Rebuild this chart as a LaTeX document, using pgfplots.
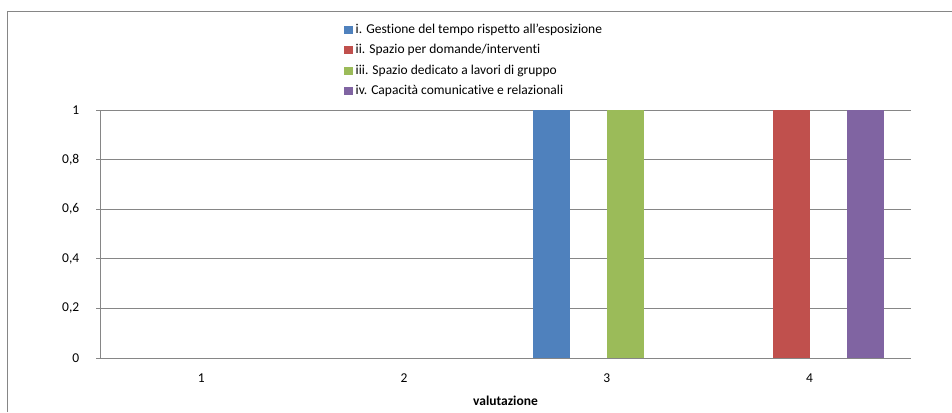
\documentclass[border=0pt]{standalone}
\usepackage{pgfplots}
\pgfplotsset{compat=1.18}
\usepackage{fontspec}
\setmainfont{Carlito}[Ligatures={NoCommon}]
\definecolor{sBlue}{HTML}{4F81BD}
\definecolor{sRed}{HTML}{C0504D}
\definecolor{sGreen}{HTML}{9BBB59}
\definecolor{sPurple}{HTML}{8064A2}
\definecolor{axgray}{HTML}{868686}
\begin{document}
\fontsize{13.5}{16}\selectfont
\begin{tikzpicture}[x=1pt,y=1pt]
\useasboundingbox (0,0) rectangle (952,412);
\draw[axgray, line width=1pt] (7,0) -- (7,400) -- (952,400);
\begin{axis}[
  at={(100pt,54pt)}, anchor=south west,
  scale only axis, width=811pt, height=248pt,
  ybar=0pt, bar width=37pt,
  xmin=0.5, xmax=4.5, ymin=0, ymax=1,
  xtick={1,2,3,4},
  xtick style={draw=none},
  ytick={0,0.2,0.4,0.6,0.8,1},
  axis x line*=bottom, axis y line*=left,
  axis line style={axgray, line width=0.8pt},
  ymajorgrids, grid style={axgray, line width=0.8pt},
  tick align=outside, major tick length=4pt,
  ytick style={axgray, line width=0.8pt},
  /pgf/number format/assume math mode=true,
  /pgf/number format/use comma,
  /pgf/number format/fixed,
  /pgf/number format/precision=1,
  yticklabel style={/tikz/anchor=east, /tikz/xshift=-12pt, /tikz/font=\fontsize{13.5}{16}\selectfont},
  xticklabel style={/tikz/anchor=center, /tikz/yshift=-16pt, /tikz/font=\fontsize{13.5}{16}\selectfont},
  every axis x label/.style={at={(rel axis cs:0.5,0)}, anchor=center, yshift=-43pt, font=\fontsize{13.5}{16}\selectfont\bfseries},
  xlabel={valutazione},
  legend style={at={(rel axis cs:0.3009,1.3548)}, anchor=north west, draw=none, fill=none,
    inner sep=0pt, row sep=5.5pt,
    nodes={inner ysep=1pt, inner xsep=2.5pt, text height=10pt, text depth=3pt, font=\fontsize{13.5}{16}\selectfont}},
  legend cell align=left,
  legend image code/.code={\fill[#1] (-1.5pt,-4pt) rectangle (7.5pt,4pt);},
]
\addplot[fill=sBlue, draw=none] coordinates {(3,1)};
\addplot[fill=sRed, draw=none] coordinates {(4,1)};
\addplot[fill=sGreen, draw=none] coordinates {(3,1)};
\addplot[fill=sPurple, draw=none] coordinates {(4,1)};
\legend{i. Gestione del tempo rispetto all’esposizione, ii. Spazio per domande/interventi, iii. Spazio dedicato a lavori di gruppo, iv. Capacità comunicative e relazionali}
\end{axis}
\end{tikzpicture}
\end{document}
